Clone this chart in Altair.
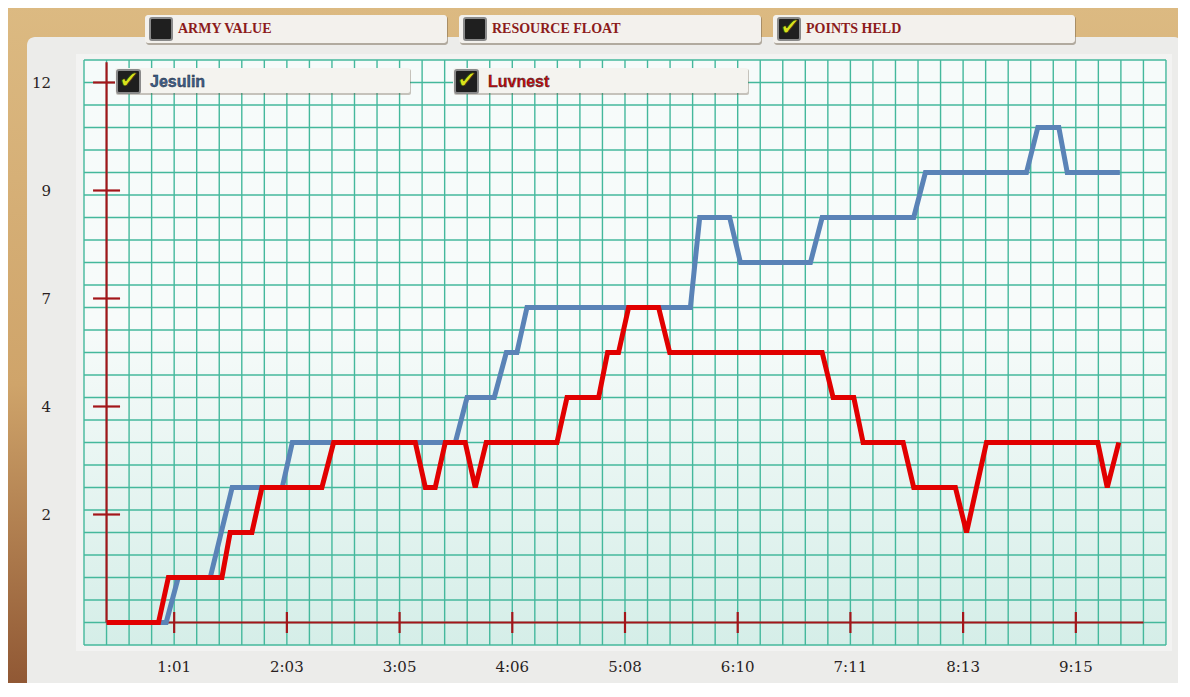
import altair as alt
import pandas as pd
import numpy as np

# ---------------- data ----------------
series_names = ["Jesulin", "Luvnest"]
series_colors = ["#5a83b7", "#e10000"]

# game time in seconds, points held
jesulin_time = [24.7, 57.3, 63.9, 81.4, 93.4, 120.8, 126.3, 215.5, 221.9, 236.8,
                243.4, 249.2, 254.7, 344.1, 349.2, 365.6, 371.5, 409.8, 416.2,
                466.3, 472.7, 528.0, 534.2, 545.7, 550.3, 579.1]
jesulin_points = [0, 0, 1, 1, 3, 3, 4, 4, 5, 5,
                  6, 6, 7, 7, 9, 9, 8, 8, 9,
                  9, 10, 10, 11, 11, 10, 10]

luvnest_time = [24.7, 53.1, 58.5, 87.8, 92.3, 104.2, 109.7, 142.5, 148.9, 193.6,
                199.1, 204.5, 210.0, 220.9, 226.4, 232.4, 271.1, 276.6, 293.9,
                298.8, 304.8, 310.3, 326.7, 332.8, 416.2, 422.2, 433.5, 438.6,
                460.5, 466.3, 489.1, 495.2, 506.1, 567.0, 572.2, 578.5]
luvnest_points = [0, 0, 1, 1, 2, 2, 3, 3, 4, 4,
                  3, 3, 4, 4, 3, 4, 4, 5, 5,
                  6, 6, 7, 7, 6, 6, 5, 5, 4,
                  4, 3, 3, 2, 4, 4, 3, 4]

x_tick_values = [61.67, 123.33, 185.0, 246.67, 308.33, 370.0, 431.67, 493.33, 555.0]
x_tick_labels = ["1:01", "2:03", "3:05", "4:06", "5:08", "6:10", "7:11", "8:13", "9:15"]
y_tick_values = [2.4, 4.8, 7.2, 9.6, 12.0]
y_tick_labels = ["2", "4", "7", "9", "12"]

buttons = ["ARMY VALUE", "RESOURCE FLOAT", "POINTS HELD"]
button_checked = [False, False, True]

# ---------------- layout / style ----------------
W, H = 1082, 585
X_DOMAIN = [12.333, 604.333]
Y_DOMAIN = [-0.5, 12.5]
CELL_T = 12.333          # one grid column in seconds
AXIS_START_T = 24.67
AXIS_END_T = 592.0
AXIS_TOP = 12.45
AXIS_RED = "#a3161a"
GRID_COLOR = "#44b89c"
LABEL_FONT = "DejaVu Serif"
LABEL_COLOR = "#2a1f1f"

xs = alt.Scale(domain=X_DOMAIN, nice=False, zero=False)
ys = alt.Scale(domain=Y_DOMAIN, nice=False, zero=False)
cs = alt.Scale(domain=series_names, range=series_colors)

one = pd.DataFrame({"k": [0]})

layers = []

# outer tan board
layers.append(alt.Chart(one).mark_rect(
    color=alt.LinearGradient(gradient="linear", x1=0, x2=0, y1=0, y2=1, stops=[
        alt.GradientStop(color="#dcba82", offset=0),
        alt.GradientStop(color="#cfa46a", offset=0.55),
        alt.GradientStop(color="#8e5532", offset=1)])
).encode(x=alt.value(-80), x2=alt.value(W + 20), y=alt.value(-56), y2=alt.value(H + 50)))

# paper sheet
layers.append(alt.Chart(one).mark_rect(color="#7d6a52", opacity=0.35, cornerRadius=8).encode(
    x=alt.value(-55), x2=alt.value(W + 18), y=alt.value(-20), y2=alt.value(H + 47)))
layers.append(alt.Chart(one).mark_rect(color="#ececea", cornerRadius=8).encode(
    x=alt.value(-57), x2=alt.value(W + 16), y=alt.value(-23), y2=alt.value(H + 45)))
layers.append(alt.Chart(one).mark_rect(color="#f3f3f2").encode(
    x=alt.value(-8), x2=alt.value(W + 6), y=alt.value(-6), y2=alt.value(H + 6)))

# graph-paper background
layers.append(alt.Chart(one).mark_rect(
    color=alt.LinearGradient(gradient="linear", x1=0, x2=0, y1=0, y2=1, stops=[
        alt.GradientStop(color="#f6fbfa", offset=0),
        alt.GradientStop(color="#f7fbfa", offset=0.45),
        alt.GradientStop(color="#d5eee8", offset=1)])
).encode(x=alt.value(0), x2=alt.value(W), y=alt.value(0), y2=alt.value(H)))

# grid lines
grid_x = pd.DataFrame({"gx": [CELL_T * k for k in range(1, 50)]})
grid_y = pd.DataFrame({"gy": list(np.arange(-0.5, 12.51, 0.5))})
layers.append(alt.Chart(grid_x).mark_rule(color=GRID_COLOR, strokeWidth=1.4).encode(
    x=alt.X("gx:Q", scale=xs, axis=None)))
layers.append(alt.Chart(grid_y).mark_rule(color=GRID_COLOR, strokeWidth=1.4).encode(
    y=alt.Y("gy:Q", scale=ys, axis=None)))

# red axis lines and ticks
layers.append(alt.Chart(pd.DataFrame({"x": [AXIS_START_T], "y0": [0.0], "y1": [AXIS_TOP]}))
              .mark_rule(color=AXIS_RED, strokeWidth=2.2)
              .encode(x=alt.X("x:Q", scale=xs, axis=None), y=alt.Y("y0:Q", scale=ys, axis=None), y2="y1:Q"))
layers.append(alt.Chart(pd.DataFrame({"x0": [AXIS_START_T], "x1": [AXIS_END_T], "y": [0.0]}))
              .mark_rule(color=AXIS_RED, strokeWidth=2.2)
              .encode(x=alt.X("x0:Q", scale=xs, axis=None), x2="x1:Q", y=alt.Y("y:Q", scale=ys, axis=None)))
layers.append(alt.Chart(pd.DataFrame({"t": x_tick_values, "y": [0.0] * len(x_tick_values)}))
              .mark_tick(orient="vertical", size=21, thickness=2.2, color=AXIS_RED, opacity=1)
              .encode(x=alt.X("t:Q", scale=xs, axis=None), y=alt.Y("y:Q", scale=ys, axis=None)))
layers.append(alt.Chart(pd.DataFrame({"v": y_tick_values, "x": [AXIS_START_T] * len(y_tick_values)}))
              .mark_tick(orient="horizontal", size=27, thickness=2.2, color=AXIS_RED, opacity=1)
              .encode(x=alt.X("x:Q", scale=xs, axis=None), y=alt.Y("v:Q", scale=ys, axis=None)))

# tick labels (positioned through the scales)
layers.append(alt.Chart(pd.DataFrame({"t": x_tick_values, "lab": x_tick_labels}))
              .mark_text(align="center", baseline="middle", font=LABEL_FONT, fontSize=15, color=LABEL_COLOR)
              .encode(x=alt.X("t:Q", scale=xs, axis=None), y=alt.value(H + 22), text="lab:N"))
layers.append(alt.Chart(pd.DataFrame({"v": y_tick_values, "lab": y_tick_labels}))
              .mark_text(align="right", baseline="middle", font=LABEL_FONT, fontSize=15, color=LABEL_COLOR)
              .encode(y=alt.Y("v:Q", scale=ys, axis=None), x=alt.value(-33), text="lab:N"))

# series lines
for name, t, p in [("Jesulin", jesulin_time, jesulin_points), ("Luvnest", luvnest_time, luvnest_points)]:
    df = pd.DataFrame({"time": t, "points": p, "series": name})
    layers.append(alt.Chart(df).mark_line(strokeWidth=5, strokeJoin="miter", strokeCap="butt").encode(
        x=alt.X("time:Q", scale=xs, axis=None),
        y=alt.Y("points:Q", scale=ys, axis=None),
        color=alt.Color("series:N", scale=cs, legend=None),
    ))

# top buttons
for i, (label, checked) in enumerate(zip(buttons, button_checked)):
    x0 = 61 + 314 * i
    layers.append(alt.Chart(one).mark_rect(color="#6b5a44", opacity=0.45, cornerRadius=3).encode(
        x=alt.value(x0 + 1), x2=alt.value(x0 + 303), y=alt.value(-44), y2=alt.value(-15)))
    layers.append(alt.Chart(one).mark_rect(color="#f3f1ed", cornerRadius=3).encode(
        x=alt.value(x0), x2=alt.value(x0 + 302), y=alt.value(-45), y2=alt.value(-17)))
    layers.append(alt.Chart(one).mark_rect(color="#1f1f1f", stroke="#8a8a8a", strokeWidth=2, cornerRadius=2).encode(
        x=alt.value(x0 + 5), x2=alt.value(x0 + 27), y=alt.value(-42), y2=alt.value(-20)))
    layers.append(alt.Chart(pd.DataFrame({"label": [label]})).mark_text(
        align="left", baseline="middle", font="Liberation Serif", fontWeight="bold",
        fontSize=14, color="#8c1b1b").encode(
        x=alt.value(x0 + 33), y=alt.value(-31), text="label:N"))
    if checked:
        layers.append(alt.Chart(pd.DataFrame({"c": ["\u2714"]})).mark_text(
            align="center", baseline="middle", font="DejaVu Sans", fontSize=24,
            color="#d8e31c", stroke="#2a2a10", strokeWidth=0.8).encode(
            x=alt.value(x0 + 17), y=alt.value(-32), text="c:N"))

# legend tabs inside the graph
for i, name in enumerate(series_names):
    x0 = 31 + 338 * i
    layers.append(alt.Chart(one).mark_rect(color="#6b5a44", opacity=0.35, cornerRadius=2).encode(
        x=alt.value(x0 + 1), x2=alt.value(x0 + 296), y=alt.value(9), y2=alt.value(35)))
    layers.append(alt.Chart(one).mark_rect(color="#f4f3ef", cornerRadius=2).encode(
        x=alt.value(x0), x2=alt.value(x0 + 295), y=alt.value(8), y2=alt.value(33)))
    layers.append(alt.Chart(one).mark_rect(color="#1f1f1f", stroke="#8a8a8a", strokeWidth=2, cornerRadius=2).encode(
        x=alt.value(x0 + 2), x2=alt.value(x0 + 25), y=alt.value(10), y2=alt.value(33)))
    layers.append(alt.Chart(pd.DataFrame({"c": ["\u2714"]})).mark_text(
        align="center", baseline="middle", font="DejaVu Sans", fontSize=24,
        color="#d8e31c", stroke="#2a2a10", strokeWidth=0.8).encode(
        x=alt.value(x0 + 14), y=alt.value(21), text="c:N"))
    layers.append(alt.Chart(pd.DataFrame({"series": [name]})).mark_text(
        align="left", baseline="middle", font="Liberation Sans", fontWeight="bold",
        fontSize=16, stroke="#1d2530", strokeWidth=0.4).encode(
        x=alt.value(x0 + 35), y=alt.value(22), text="series:N",
        color=alt.Color("series:N", scale=alt.Scale(domain=series_names, range=["#3d5f8c", "#c80a0a"]), legend=None)))

chart = alt.layer(*layers).resolve_scale(color="independent").properties(
    width=W, height=H,
    autosize=alt.AutoSizeParams(type="none"),
    padding={"left": 76, "top": 52, "right": 12, "bottom": 38},
).configure(background="#d3aa6f").configure_view(stroke=None)

chart.save("out.html", embed_options={"renderer": "svg", "actions": False})
